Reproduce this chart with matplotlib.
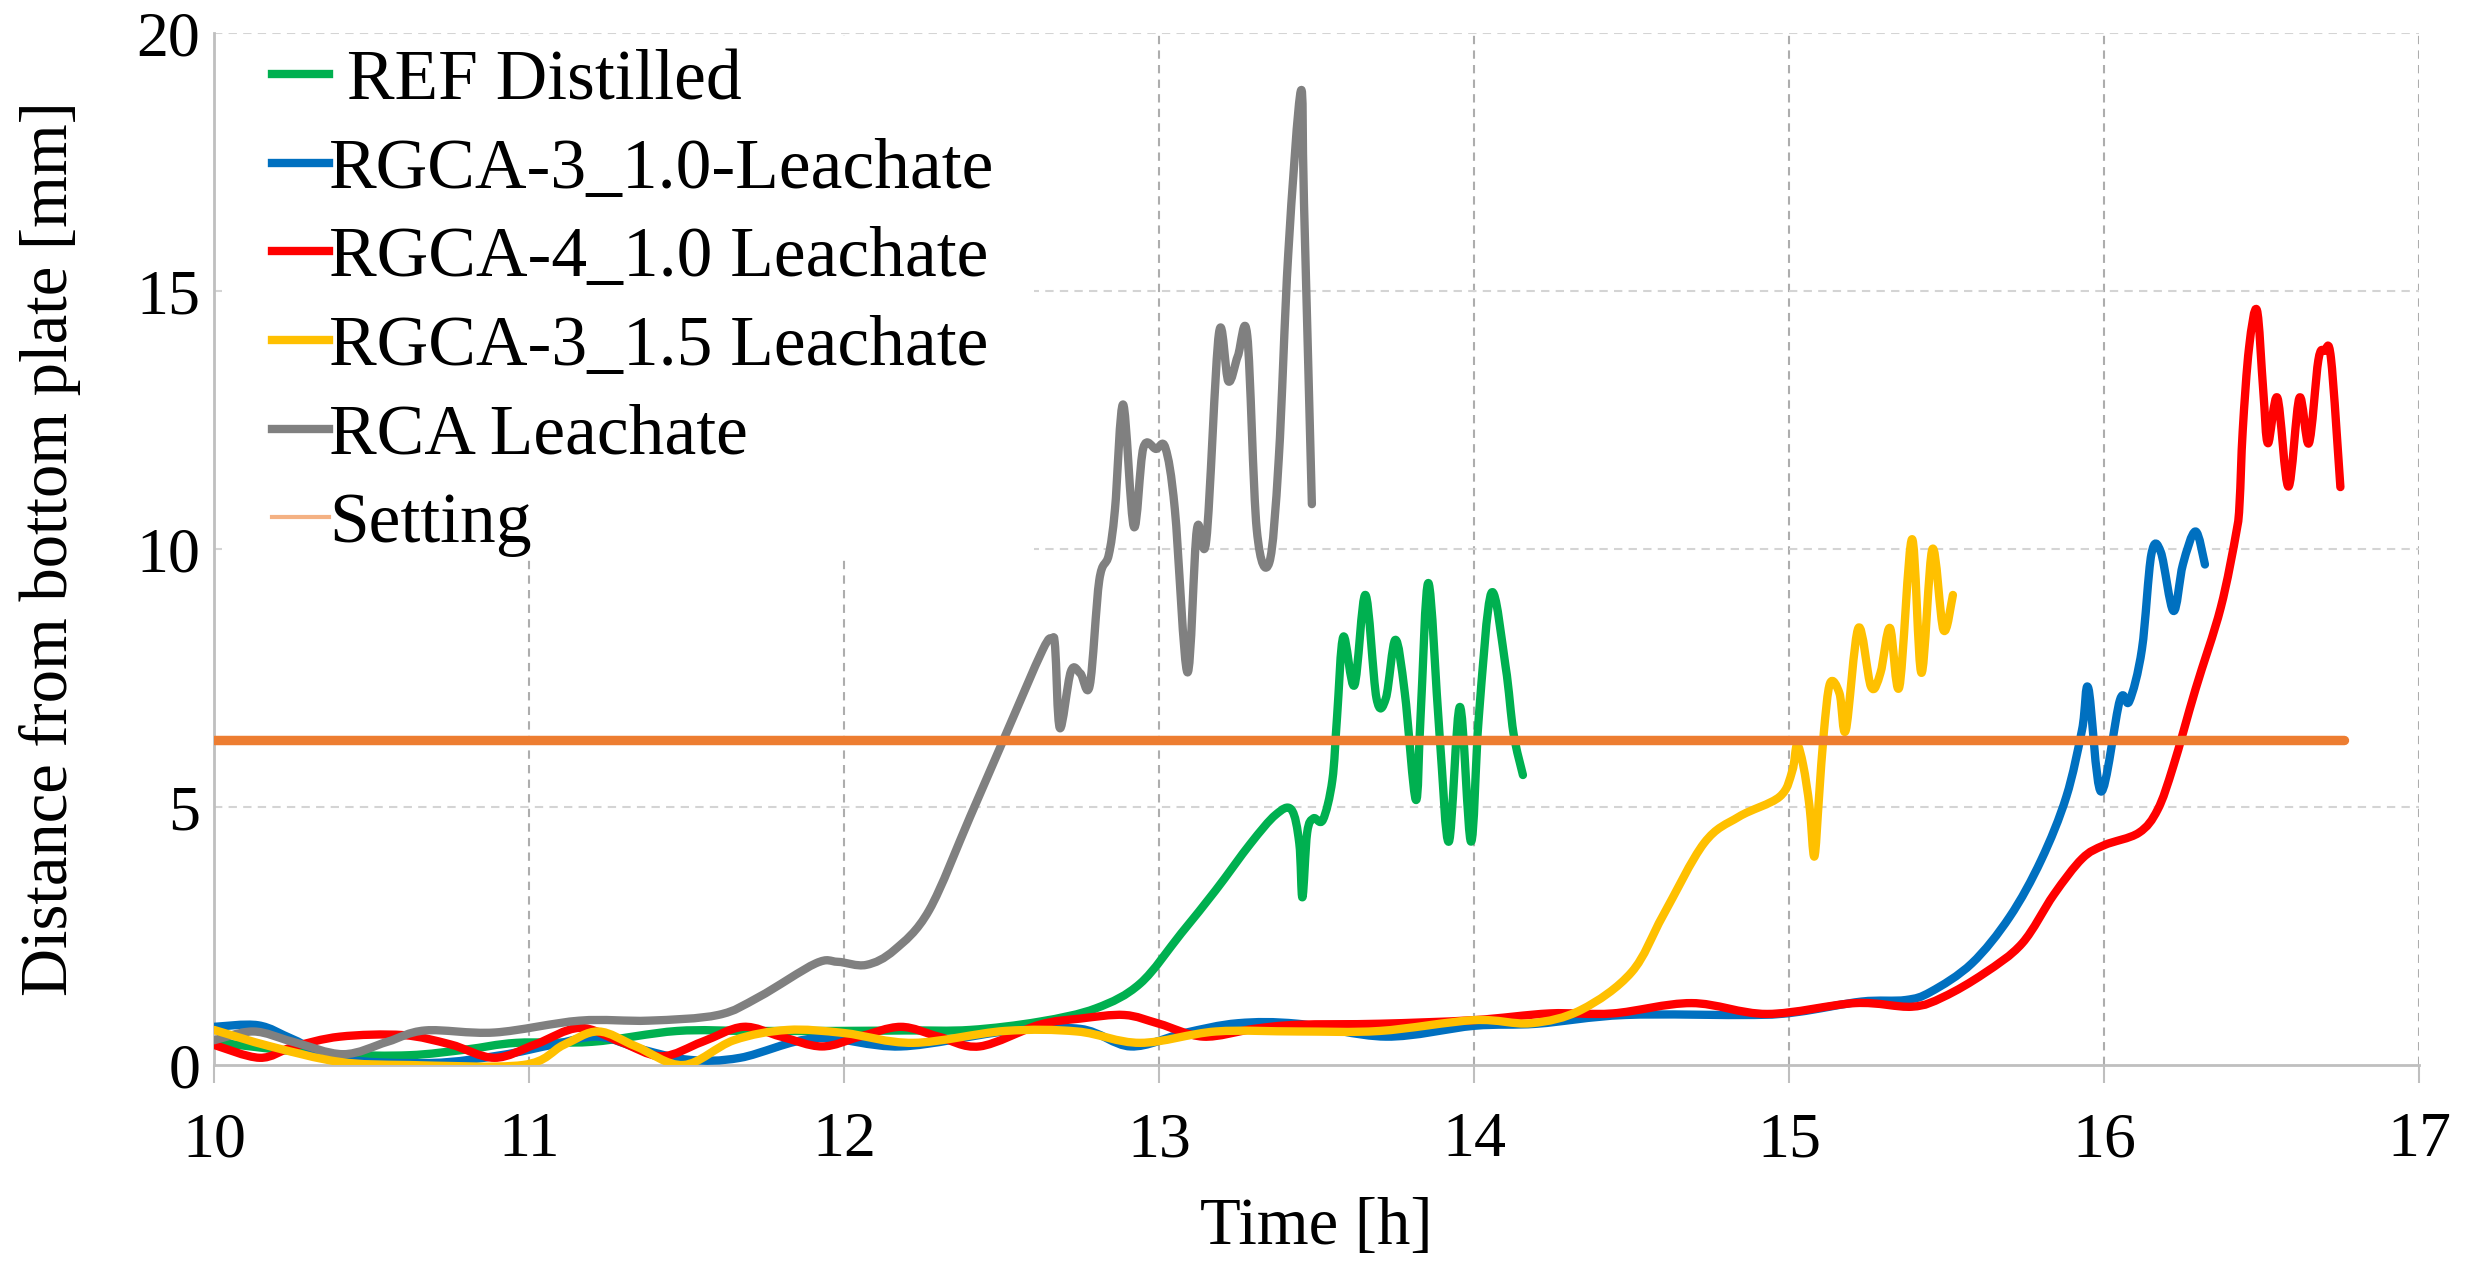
import matplotlib
matplotlib.use("Agg")
import matplotlib.pyplot as plt
import numpy as np
from matplotlib.lines import Line2D
from matplotlib.path import Path
from matplotlib.patches import PathPatch, Rectangle

plt.rcParams['font.family'] = ['Liberation Serif', 'DejaVu Serif']

# Time [h] / distance [mm] readings per specimen
ref_t = [10.0, 10.2, 10.4, 10.62, 10.8, 10.96, 11.2, 11.47, 11.7, 11.96, 12.2, 12.4,
         12.62, 12.8, 12.94, 13.07, 13.18, 13.29, 13.37, 13.42, 13.445, 13.455, 13.47,
         13.49, 13.52, 13.55, 13.565, 13.585, 13.62, 13.655, 13.69, 13.72, 13.75, 13.78,
         13.815, 13.83, 13.855, 13.89, 13.92, 13.955, 13.99, 14.015, 14.055, 14.10,
         14.125, 14.155]
ref_v = [0.45, 0.3, 0.2, 0.19, 0.3, 0.43, 0.45, 0.66, 0.66, 0.66, 0.67, 0.68,
         0.84, 1.10, 1.58, 2.55, 3.39, 4.29, 4.85, 4.95, 4.3, 3.25, 4.5,
         4.78, 4.75, 5.52, 6.75, 8.3, 7.36, 9.11, 7.11, 7.11, 8.24, 7.21,
         5.14, 6.75, 9.34, 6.43, 4.33, 6.94, 4.33, 6.75, 9.15, 7.72,
         6.43, 5.62]

rg310_t = [10.0, 10.14, 10.25, 10.40, 10.69, 10.91, 11.08, 11.22, 11.36, 11.51, 11.67,
           11.91, 12.18, 12.51, 12.75, 12.91, 13.08, 13.25, 13.44, 13.72, 14.0, 14.2,
           14.48, 14.89, 15.03, 15.23, 15.37, 15.45, 15.58, 15.70, 15.80, 15.88, 15.93,
           15.95, 15.99, 16.05, 16.08, 16.12, 16.15, 16.18, 16.22, 16.25, 16.29, 16.32]
rg310_v = [0.74, 0.77, 0.5, 0.12, 0.04, 0.19, 0.4, 0.55, 0.3, 0.1, 0.14,
           0.52, 0.36, 0.65, 0.7, 0.36, 0.62, 0.81, 0.8, 0.55, 0.76, 0.8,
           0.97, 0.97, 1.03, 1.23, 1.26, 1.42, 1.97, 2.87, 3.97, 5.2, 6.5,
           7.3, 5.3, 7.07, 7.05, 8.06, 9.9, 9.94, 8.8, 9.7, 10.34, 9.7]

rg410_t = [10.0, 10.145, 10.25, 10.40, 10.60, 10.75, 10.89, 11.02, 11.16, 11.29, 11.42,
           11.55, 11.68, 11.8, 11.93, 12.05, 12.18, 12.3, 12.43, 12.62, 12.75, 12.89,
           13.0, 13.14, 13.3, 13.44, 13.7, 14.0, 14.24, 14.44, 14.69, 14.93, 15.21,
           15.39, 15.49, 15.62, 15.74, 15.84, 15.93, 16.0, 16.11, 16.17, 16.22, 16.29,
           16.37, 16.42, 16.43, 16.44, 16.46, 16.485, 16.505, 16.52, 16.55, 16.585,
           16.62, 16.65, 16.68, 16.70, 16.72, 16.75]
rg410_v = [0.39, 0.14, 0.35, 0.55, 0.58, 0.4, 0.14, 0.4, 0.72, 0.45, 0.17,
           0.45, 0.74, 0.55, 0.36, 0.55, 0.74, 0.55, 0.36, 0.78, 0.9, 0.97,
           0.8, 0.55, 0.7, 0.78, 0.8, 0.87, 1.0, 1.0, 1.2, 0.99, 1.2,
           1.13, 1.32, 1.78, 2.36, 3.3, 4.0, 4.26, 4.5, 4.95, 5.8, 7.28,
           8.86, 10.34, 10.9, 12.3, 13.9, 14.63, 13.08, 12.05, 12.93, 11.21,
           12.93, 12.05, 13.66, 13.84, 13.7, 11.2]

rg315_t = [10.0, 10.18, 10.4, 10.62, 10.98, 11.11, 11.22, 11.34, 11.49, 11.65, 11.82,
           12.0, 12.22, 12.51, 12.74, 12.94, 13.18, 13.44, 13.7, 14.0, 14.18, 14.34,
           14.50, 14.60, 14.73, 14.84, 14.97, 15.01, 15.025, 15.045, 15.065, 15.08,
           15.095, 15.11, 15.13, 15.16, 15.18, 15.22, 15.26, 15.29, 15.32, 15.35,
           15.39, 15.42, 15.455, 15.49, 15.52]
rg315_v = [0.68, 0.36, 0.06, 0.0, 0.0, 0.39, 0.65, 0.36, 0.0, 0.48, 0.68,
           0.62, 0.43, 0.66, 0.65, 0.43, 0.65, 0.65, 0.66, 0.87, 0.81, 1.07,
           1.8, 2.9, 4.3, 4.81, 5.2, 5.7, 6.2, 5.8, 5.0, 4.04,
           5.2, 6.43, 7.4, 7.2, 6.49, 8.47, 7.33, 7.6, 8.47, 7.33,
           10.19, 7.6, 10.0, 8.43, 9.11]

rca_t = [10.0, 10.125, 10.25, 10.41, 10.55, 10.67, 10.89, 11.16, 11.38, 11.60, 11.73,
         11.91, 11.98, 12.07, 12.16, 12.27, 12.40, 12.51, 12.63, 12.66, 12.67, 12.685,
         12.72, 12.75, 12.78, 12.81, 12.84, 12.86, 12.886, 12.92, 12.95, 12.99, 13.02,
         13.05, 13.09, 13.12, 13.15, 13.19, 13.22, 13.25, 13.28, 13.31, 13.35, 13.38,
         13.41, 13.45, 13.46, 13.485]
rca_v = [0.48, 0.65, 0.45, 0.21, 0.45, 0.67, 0.63, 0.86, 0.86, 0.97, 1.32,
         1.97, 2.0, 1.94, 2.23, 3.0, 4.81, 6.36, 8.04, 8.26, 8.1, 6.53,
         7.63, 7.59, 7.36, 9.39, 9.88, 10.77, 12.8, 10.43, 11.96, 11.94, 11.96,
         10.77, 7.61, 10.38, 10.18, 14.18, 13.25, 13.74, 14.13, 10.38, 9.74, 11.76,
         15.72, 18.88, 16.7, 10.87]

setting_t = [10.0, 16.76]
setting_v = [6.3, 6.3]

labels = [" REF Distilled", "RGCA-3_1.0-Leachate", "RGCA-4_1.0 Leachate",
          "RGCA-3_1.5 Leachate", "RCA Leachate", "Setting"]
colors = ["#00B050", "#0070C0", "#FF0000", "#FFC000", "#808080"]
setting_color = "#ED7D31"
setting_legend_color = "#F4B183"

x_ticks = [10, 11, 12, 13, 14, 15, 16, 17]
y_ticks = [0, 5, 10, 15, 20]


def smoothed_path(t, v):
    """Cubic Bezier path through every reading (spreadsheet-style smoothed line)."""
    p = np.column_stack([t, v]).astype(float)
    n = len(p)
    verts = [p[0]]
    codes = [Path.MOVETO]
    for i in range(n - 1):
        p_prev = p[i - 1] if i > 0 else p[i]
        p_next2 = p[i + 2] if i + 2 < n else p[i + 1]
        c1 = p[i] + (p[i + 1] - p_prev) / 6.0
        c2 = p[i + 1] - (p_next2 - p[i]) / 6.0
        verts += [c1, c2, p[i + 1]]
        codes += [Path.CURVE4] * 3
    return Path(verts, codes)


fig = plt.figure(figsize=(24.66, 12.70), dpi=100)
ax = fig.add_axes([0.0868, 0.1614, 0.8942, 0.8126])

series = [(ref_t, ref_v), (rg310_t, rg310_v), (rg410_t, rg410_v),
          (rg315_t, rg315_v), (rca_t, rca_v)]
zorders = [3, 3.1, 3.2, 3.4, 3.3]
for (t, v), c, z in zip(series, colors, zorders):
    ax.add_patch(PathPatch(smoothed_path(t, v), facecolor='none', edgecolor=c,
                           lw=6.0, joinstyle='round', capstyle='round', zorder=z))
ax.plot(setting_t, setting_v, color=setting_color, lw=6.8, solid_capstyle='round', zorder=4)

ax.set_xlim(10, 17)
ax.set_ylim(0, 20)
ax.set_xticks(x_ticks)
ax.set_yticks(y_ticks)
ax.set_xticklabels([str(x) for x in x_ticks])
ax.set_yticklabels([str(y) for y in y_ticks])

# Gridlines: darker dashed verticals, light dashed horizontals
for x in x_ticks[1:]:
    ax.axvline(x, color="#ADADAD", lw=1.5, ls=(0, (4, 3)), zorder=1)
for y in y_ticks[1:]:
    ax.axhline(y, color="#D4D4D4", lw=1.5, ls=(0, (4, 3)), zorder=1)

for side in ("top", "right"):
    ax.spines[side].set_visible(False)
for side in ("left", "bottom"):
    ax.spines[side].set_color("#BFBFBF")
    ax.spines[side].set_linewidth(2)
    ax.spines[side].set_zorder(2)

ax.tick_params(axis='x', direction='out', length=13, width=1.5, color="#BFBFBF",
               labelsize=46, pad=21)
ax.tick_params(axis='y', length=0, labelsize=46, pad=10)

ax.set_xlabel("Time [h]", fontsize=48, labelpad=19)
ax.set_ylabel("Distance from bottom plate [mm]", fontsize=48, labelpad=40)

# White panel behind the legend hides the grid in that corner
ax.add_patch(Rectangle((0.0036, 0.491), 0.3684, 0.506, transform=ax.transAxes,
                       facecolor='white', edgecolor='none', zorder=2.5))

handles = [Line2D([], [], color=c, lw=6.0) for c in colors]
handles.append(Line2D([], [], color=setting_legend_color, lw=3))
leg = ax.legend(handles, labels, loc='upper left', bbox_to_anchor=(0.0263, 0.9845),
                fontsize=51.5, frameon=False, handlelength=0.8,
                handletextpad=0.0, labelspacing=0.33, borderpad=0.0,
                borderaxespad=0)
leg.set_zorder(5)

fig.savefig("out.png", dpi=100)
